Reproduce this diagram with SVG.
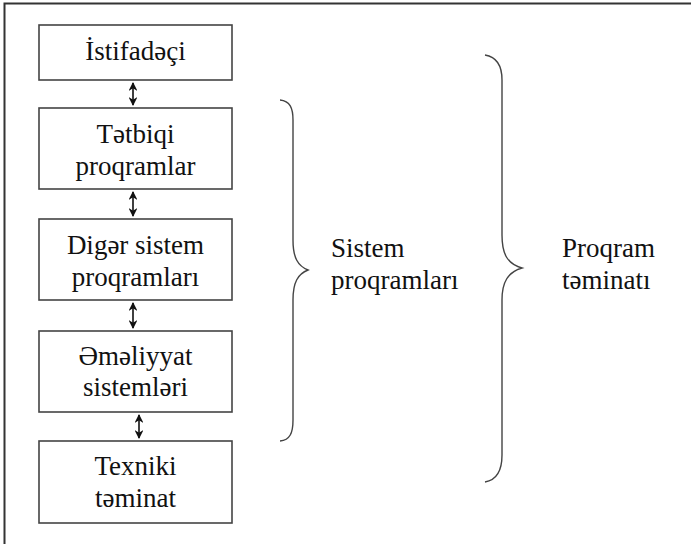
<svg xmlns="http://www.w3.org/2000/svg" width="691" height="544" viewBox="0 0 691 544">
<style>
.t{font-family:'Liberation Serif','Times New Roman',serif;font-size:27px;fill:#111}
.c{text-anchor:middle}
.box{fill:#fff;stroke:#444;stroke-width:1.6}
.brace{fill:none;stroke:#444;stroke-width:1.4}
.arr{stroke:#111;stroke-width:1.6;marker-start:url(#h);marker-end:url(#h)}
</style>
<defs>
<marker id="h" viewBox="0 0 10 10" refX="9" refY="5" markerWidth="5.5" markerHeight="5.5" orient="auto-start-reverse" markerUnits="strokeWidth">
<path d="M0,0 L10,5 L0,10 L3,5 Z" fill="#111"/>
</marker>
</defs>
<rect width="691" height="544" fill="#fff"/>
<path d="M4.5,544 V3.5 H691" fill="none" stroke="#333" stroke-width="2"/>
<g id="n1"><rect class="box" x="39" y="25" width="193" height="55"/><text class="t c" x="135.5" y="60">İstifadəçi</text></g>
<g id="n2"><rect class="box" x="39" y="108" width="193" height="81"/><text class="t c" x="135.5" y="143">Tətbiqi</text><text class="t c" x="135.5" y="175">proqramlar</text></g>
<g id="n3"><rect class="box" x="39" y="219" width="193" height="81"/><text class="t c" x="135.5" y="254">Digər sistem</text><text class="t c" x="135.5" y="286">proqramları</text></g>
<g id="n4"><rect class="box" x="39" y="331" width="193" height="81"/><text class="t c" x="135.5" y="365">Əməliyyat</text><text class="t c" x="135.5" y="396">sistemləri</text></g>
<g id="n5"><rect class="box" x="39" y="441" width="193" height="82"/><text class="t c" x="135.5" y="475">Texniki</text><text class="t c" x="135.5" y="507">təminat</text></g>
<g id="brace1"><path class="brace" d="M280,100 C290,101 293,108 293,120 L293,240 C293,258 298,266 308,270 C298,274 293,282 293,300 L293,420 C293,433 290,440 280,441"/><text class="t" x="331" y="257">Sistem</text><text class="t" x="331" y="289">proqramları</text></g>
<g id="brace2"><path class="brace" d="M485,55 C497,57 502,66 502,80 L502,235 C502,255 508,264 522,268 C508,272 502,282 502,300 L502,455 C502,470 497,480 485,482"/><text class="t" x="562" y="257">Proqram</text><text class="t" x="562" y="289">təminatı</text></g>
<g id="connectors">
<line class="arr" x1="133" y1="83" x2="133" y2="105"/>
<line class="arr" x1="133" y1="192" x2="133" y2="216"/>
<line class="arr" x1="133" y1="303" x2="133" y2="328"/>
<line class="arr" x1="139" y1="415" x2="139" y2="438"/>
</g>
</svg>
